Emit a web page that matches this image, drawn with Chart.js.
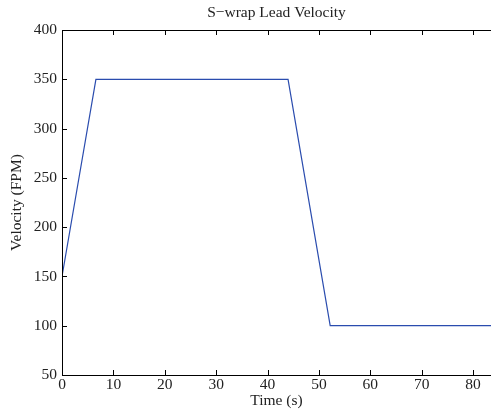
<!DOCTYPE html>
<html>
<head>
<meta charset="utf-8">
<script src="https://cdn.jsdelivr.net/npm/chart.js@4"></script>
<style>
  html, body { margin: 0; padding: 0; background: #fff; }
  #wrap { width: 491px; height: 418px; }
</style>
</head>
<body>
<div id="wrap"><canvas id="velChart" width="491" height="418"></canvas></div>
<script>
// datos
const tiempo = [0, 6.6, 44.0, 52.2, 83.5];
const velocidad = [150, 350, 350, 100, 100];
const xTicks = [0, 10, 20, 30, 40, 50, 60, 70, 80];
const yTicks = [50, 100, 150, 200, 250, 300, 350, 400];

const fuente = { family: '"Liberation Serif", "Times New Roman", serif', size: 15.5 };

// marco (sin borde derecho, queda fuera del lienzo) y marcas hacia adentro
const marcoPlugin = {
  id: 'marco',
  afterDraw(chart) {
    const { ctx, chartArea: a, scales } = chart;
    ctx.save();
    ctx.strokeStyle = '#000';
    ctx.lineWidth = 1;
    ctx.beginPath();
    ctx.moveTo(a.right + 1, a.top + 0.5);
    ctx.lineTo(a.left + 0.5, a.top + 0.5);
    ctx.lineTo(a.left + 0.5, a.bottom + 0.5);
    ctx.lineTo(a.right + 1, a.bottom + 0.5);
    xTicks.forEach(v => {
      const x = Math.round(scales.x.getPixelForValue(v)) + 0.5;
      ctx.moveTo(x, a.bottom); ctx.lineTo(x, a.bottom - 5);
      ctx.moveTo(x, a.top); ctx.lineTo(x, a.top + 5);
    });
    yTicks.forEach(v => {
      const y = Math.round(scales.y.getPixelForValue(v)) + 0.5;
      ctx.moveTo(a.left, y); ctx.lineTo(a.left + 5, y);
    });
    ctx.stroke();
    // titulo
    ctx.fillStyle = '#222';
    ctx.font = '15.5px ' + fuente.family;
    ctx.textAlign = 'center';
    ctx.textBaseline = 'middle';
    ctx.fillText('S\u2212wrap Lead Velocity', (a.left + a.right) / 2, 13);
    ctx.restore();
  }
};

const ctx = document.getElementById('velChart').getContext('2d');
new Chart(ctx, {
  type: 'line',
  data: {
    datasets: [{
      label: 'Velocity',
      data: tiempo.map((t, i) => ({ x: t, y: velocidad[i] })),
      borderColor: '#2a4cae',
      borderWidth: 1.2,
      pointRadius: 0,
      tension: 0,
      fill: false
    }]
  },
  options: {
    responsive: false,
    animation: false,
    layout: { padding: { top: 30, right: 0, left: 0, bottom: 0 } },
    plugins: {
      legend: { display: false },
      tooltip: { enabled: false },
      title: { display: false }
    },
    scales: {
      x: {
        type: 'linear',
        min: 0,
        max: 83.5,
        afterBuildTicks: s => { s.ticks = xTicks.map(v => ({ value: v })); },
        afterFit: s => { s.height = 43; },
        grid: { display: false, drawTicks: false },
        border: { display: false },
        ticks: { color: '#222', font: fuente, padding: 1, maxRotation: 0, autoSkip: false },
        title: { display: true, text: 'Time (s)', color: '#222', font: fuente, padding: { top: 0, bottom: 8 } }
      },
      y: {
        type: 'linear',
        min: 50,
        max: 400,
        afterBuildTicks: s => { s.ticks = yTicks.map(v => ({ value: v })); },
        afterFit: s => { s.width = 62; },
        grid: { display: false, drawTicks: false },
        border: { display: false },
        ticks: { color: '#222', font: fuente, padding: 5, autoSkip: false },
        title: { display: true, text: 'Velocity (FPM)', color: '#222', font: fuente, padding: { top: 8, bottom: 4 } }
      }
    }
  },
  plugins: [marcoPlugin]
});
</script>
</body>
</html>
